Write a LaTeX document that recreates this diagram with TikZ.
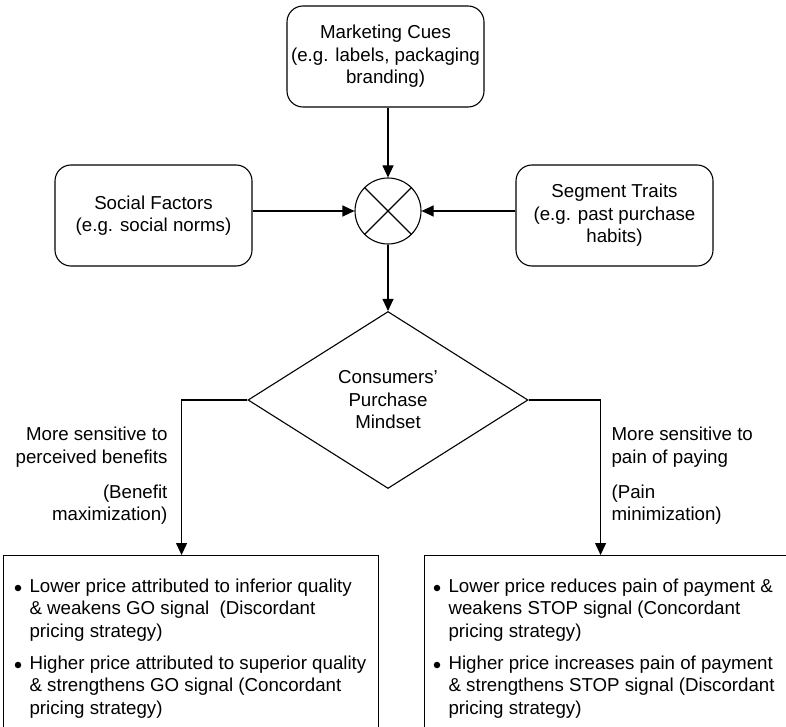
\documentclass[tikz,border=0pt]{standalone}
\usepackage{fontspec}
\setmainfont{Liberation Sans}
\usetikzlibrary{arrows.meta,shapes.geometric}
\begin{document}
\begin{tikzpicture}[x=1pt,y=-1pt,
  line width=1.1pt,
  every node/.style={font=\fontsize{18.7}{22.5}\selectfont},
  cuebox/.style={draw,rounded corners=16pt,minimum width=197pt,minimum height=101pt,align=center,inner sep=0pt},
  flow/.style={-{Triangle[length=12pt,width=11pt]}},
  outbox/.style={draw,minimum width=375pt,minimum height=190pt,anchor=north west,inner sep=0pt},
  dot/.style={circle,fill,inner sep=0pt,minimum size=6.5pt},
  item/.style={anchor=west,align=left,inner sep=0pt},
  branch/.style={inner sep=0pt},
]
\clip (0,0) rectangle (786,727);
\useasboundingbox (0,0) rectangle (786,727);

% inputs
\node[cuebox] (mkt) at (385.5,56.5) {Marketing Cues\\(e.g. labels, packaging\\branding)};
\node[cuebox] (soc) at (153.5,215.5) {Social Factors\\(e.g. social norms)};
\node[cuebox] (seg) at (614.5,215.5) {Segment Traits\\(e.g. past purchase\\habits)};

% combining junction
\node[draw,circle,minimum size=66pt,inner sep=0pt] (mix) at (388,211) {};
\draw (mix.45) -- (mix.225) (mix.135) -- (mix.315);

% decision
\node[draw,diamond,aspect=1.58,minimum width=280pt,minimum height=177pt,inner sep=0pt,align=center] (mind) at (388,400) {Consumers'\\Purchase\\Mindset};

% outcome boxes
\node[outbox] (lbox) at (3,555) {};
\node[outbox,minimum width=376pt] (rbox) at (424,555) {};

% connectors
\draw[flow] (mkt.south -| mix) -- (mix.north);
\draw[flow] (soc.east |- mix) -- (mix.west);
\draw[flow] (seg.west |- mix) -- (mix.east);
\draw[flow] (mix.south) -- (mind.north);
\draw[flow] (mind.west) -| ([xshift=-9.5pt]lbox.north);
\draw[flow] (mind.east) -| ([xshift=-12pt]rbox.north);

% branch labels
\node[branch,anchor=east,align=right] (lblab) at (168,476) {More sensitive to\\perceived benefits\\[12.5pt](Benefit\\maximization)};
\node[branch,anchor=west,align=left] (rblab) at (611,476) {More sensitive to\\pain of paying\\[12.5pt](Pain\\minimization)};

% left box items
\node[dot] (lb1) at (18,588) {};
\node[item] (lt1) at (29,610) {Lower price attributed to inferior quality\\\& weakens GO signal\ \ (Discordant\\pricing strategy)};
\node[dot] (lb2) at (18,665) {};
\node[item] (lt2) at (29,687) {Higher price attributed to superior quality\\\& strengthens GO signal (Concordant\\pricing strategy)};

% right box items
\node[dot] (rb1) at (437,588) {};
\node[item] (rt1) at (448,610) {Lower price reduces pain of payment \&\\weakens STOP signal (Concordant\\pricing strategy)};
\node[dot] (rb2) at (437,665) {};
\node[item] (rt2) at (448,687) {Higher price increases pain of payment\\\& strengthens STOP signal (Discordant\\pricing strategy)};
\end{tikzpicture}
\end{document}
